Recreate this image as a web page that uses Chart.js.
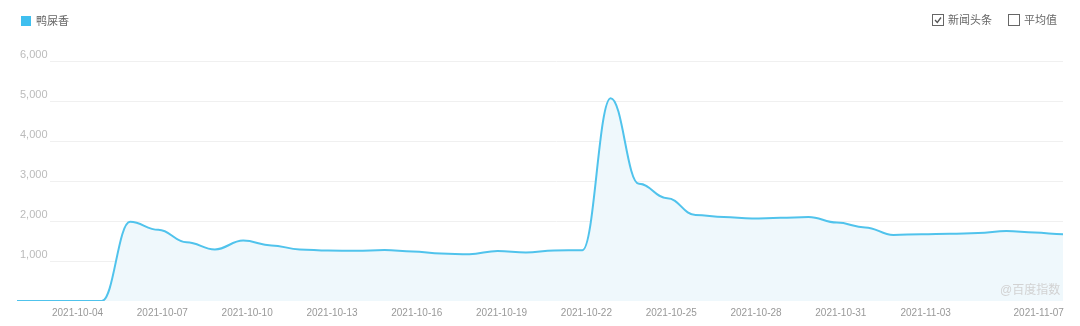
<!DOCTYPE html>
<html>
<head>
<meta charset="utf-8">
<script src="https://cdn.jsdelivr.net/npm/chart.js@4/dist/chart.umd.min.js"></script>
<style>
  html, body { margin: 0; padding: 0; background: #fff; }
  #wrap { position: relative; width: 1080px; height: 326px; overflow: hidden;
    font-family: "Liberation Sans", "Noto Sans CJK SC", sans-serif; color: #666; }
  #myCanvas { position: absolute; left: 0; top: 0; }
  .lg { position: absolute; font-size: 11px; line-height: 12px; }
  .box { position: absolute; width: 10px; height: 10px; border: 1px solid #666; box-sizing: content-box; }
  #mark { position: absolute; left: 1000px; top: 280px; font-size: 12px; color: #d2d2d2; }
</style>
</head>
<body>
<div id="wrap">
  <canvas id="myCanvas" width="1080" height="326"></canvas>
  <div style="position:absolute;left:21px;top:16px;width:10px;height:10px;background:#3fbfef;"></div>
  <div class="lg" style="left:36px;top:15px;">鸭屎香</div>
  <div class="box" style="left:932px;top:14px;">
    <svg width="10" height="10" style="position:absolute;left:0;top:0"><polyline points="2,5 4.3,7.5 8,2.5" fill="none" stroke="#555" stroke-width="1.3"/></svg>
  </div>
  <div class="lg" style="left:948px;top:14px;">新闻头条</div>
  <div class="box" style="left:1008px;top:14px;"></div>
  <div class="lg" style="left:1024px;top:14px;">平均值</div>
  <div id="mark">@百度指数</div>
</div>
<script>
// 2021-10-02 .. 2021-11-08
const dates = [
    '2021-10-02','2021-10-03','2021-10-04','2021-10-05','2021-10-06','2021-10-07','2021-10-08',
    '2021-10-09','2021-10-10','2021-10-11','2021-10-12','2021-10-13','2021-10-14','2021-10-15',
    '2021-10-16','2021-10-17','2021-10-18','2021-10-19','2021-10-20','2021-10-21','2021-10-22',
    '2021-10-23','2021-10-24','2021-10-25','2021-10-26','2021-10-27','2021-10-28','2021-10-29',
    '2021-10-30','2021-10-31','2021-11-01','2021-11-02','2021-11-03','2021-11-04','2021-11-05',
    '2021-11-06','2021-11-07','2021-11-08'
];
const yaShiXiang = [
    0, 0, 0, 0, 1980, 1780, 1470,
    1290, 1510, 1390, 1290, 1260, 1255, 1275,
    1240, 1185, 1170, 1250, 1210, 1265, 1270,
    5070, 2930, 2570, 2150, 2100, 2060, 2080,
    2100, 1960, 1840, 1650, 1670, 1680, 1700,
    1750, 1710, 1670
];
const xTickDates = [
    '2021-10-04','2021-10-07','2021-10-10','2021-10-13','2021-10-16','2021-10-19',
    '2021-10-22','2021-10-25','2021-10-28','2021-10-31','2021-11-03','2021-11-07'
];
const yTicks = [1000, 2000, 3000, 4000, 5000, 6000];

// grid lines start right of the y labels
const gridPlugin = {
    id: 'leftGrid',
    beforeDatasetsDraw(chart) {
        const ctx = chart.ctx, y = chart.scales.y, area = chart.chartArea;
        ctx.save();
        ctx.strokeStyle = '#f0f0f0';
        ctx.lineWidth = 1;
        yTicks.forEach(v => {
            const py = Math.round(y.getPixelForValue(v)) + 0.5;
            ctx.beginPath();
            ctx.moveTo(50, py);
            ctx.lineTo(area.right, py);
            ctx.stroke();
        });
        ctx.restore();
    }
};

// flat tangent at every point, like the baidu curve
function flattenCurve(chart) {
    chart.getSortedVisibleDatasetMetas().forEach(meta => {
        const line = meta.dataset;
        if (!line) return;
        line.updateControlPoints(chart.chartArea, 'x');
        const pts = meta.data, k = 0.42;
        pts.forEach((p, i) => {
            const prev = pts[i - 1] || p, next = pts[i + 1] || p;
            p.cp1x = p.x - (p.x - prev.x) * k;
            p.cp1y = p.y;
            p.cp2x = p.x + (next.x - p.x) * k;
            p.cp2y = p.y;
        });
    });
}
const flatPlugin = {
    id: 'flatCurve',
    afterDatasetsUpdate(chart) { flattenCurve(chart); },
    beforeDatasetsDraw(chart) { flattenCurve(chart); }
};

function init() {
    const ctx = document.getElementById('myCanvas').getContext('2d');
    new Chart(ctx, {
        type: 'line',
        data: {
            labels: dates,
            datasets: [{
                label: '鸭屎香',
                data: yaShiXiang,
                borderColor: '#50c3ec',
                backgroundColor: '#eff8fc',
                borderWidth: 2,
                fill: 'origin',
                pointRadius: 0,
                cubicInterpolationMode: 'monotone'
            }]
        },
        options: {
            responsive: false,
            animation: false,
            devicePixelRatio: 1,
            layout: { padding: { left: 11, right: 17, top: 61, bottom: 1 } },
            plugins: { legend: { display: false }, tooltip: { enabled: false } },
            scales: {
                x: {
                    grid: { display: false, drawTicks: false },
                    border: { display: false },
                    ticks: {
                        autoSkip: false,
                        maxRotation: 0,
                        padding: 6,
                        labelOffset: 4,
                        color: '#999',
                        font: { size: 10, family: 'Liberation Sans' },
                        callback: function(v, i) {
                            return xTickDates.includes(dates[i]) ? dates[i] : '';
                        }
                    }
                },
                y: {
                    min: 0,
                    max: 6000,
                    grid: { display: false, drawTicks: false },
                    border: { display: false },
                    ticks: {
                        stepSize: 1000,
                        mirror: true,
                        padding: 3,
                        labelOffset: -6,
                        color: '#bbb',
                        font: { size: 11, family: 'Liberation Sans' },
                        callback: v => v === 0 ? '' : v.toLocaleString('en-US')
                    }
                }
            }
        },
        plugins: [gridPlugin, flatPlugin]
    });
}

document.addEventListener('DOMContentLoaded', init);
</script>
</body>
</html>
